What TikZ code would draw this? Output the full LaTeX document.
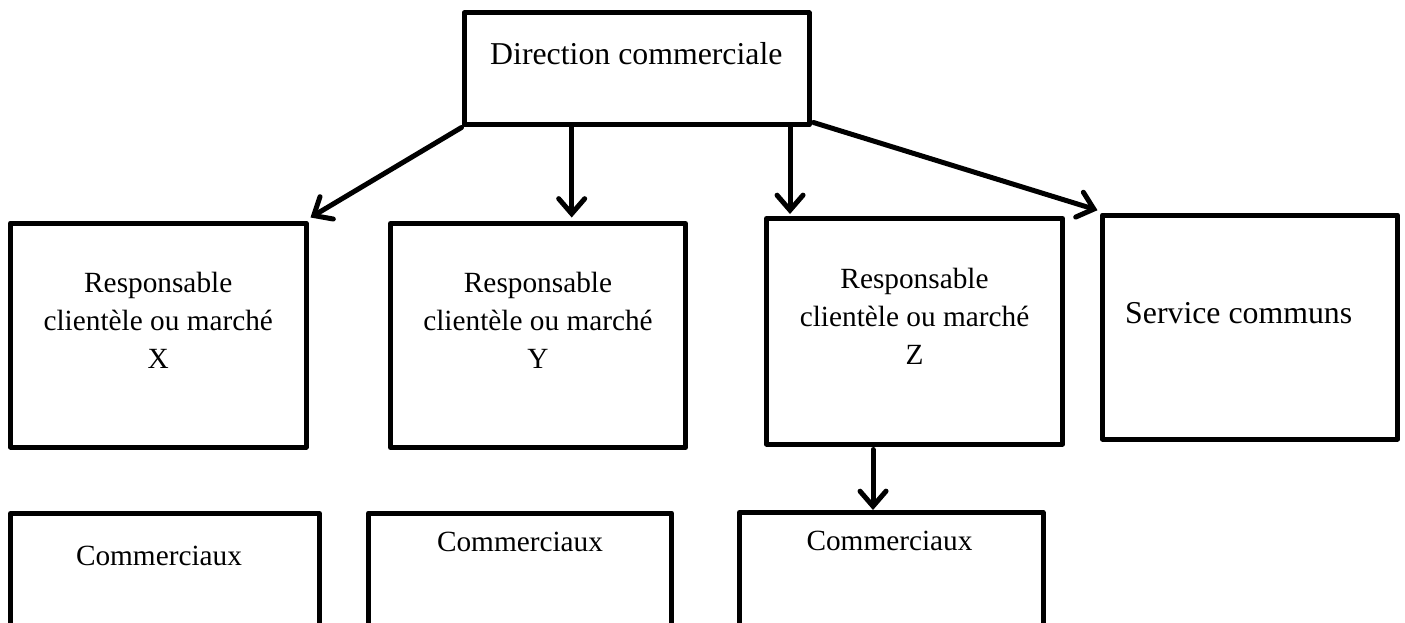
\documentclass[tikz,border=0pt]{standalone}
\usepackage{fontspec}
\setmainfont{Liberation Serif}
\usetikzlibrary{arrows.meta}

\tikzset{
  box/.style={draw=black, line width=5pt, line join=round, rectangle,
              inner sep=0pt, fill=white},
  lbl/.style={anchor=base, inner sep=0pt, align=center,
              font=\fontsize{29.3}{38}\selectfont},
  biglbl/.style={anchor=base, inner sep=0pt,
              font=\fontsize{31.8}{38}\selectfont},
  arr/.style={line width=5pt, line cap=round,
              -{Straight Barb[length=15pt, width=26pt, line cap=round]}},
}

\begin{document}
\begin{tikzpicture}[x=1pt, y=-1pt]
  \clip (0,0) rectangle (1405,623);
  \fill[white] (0,0) rectangle (1405,623);

  % top level
  \node[box, minimum width=345pt, minimum height=112pt] (dc) at (636.5,69) {};
  \node[biglbl, anchor=base west] (dct) at (490,65) {Direction commerciale};

  % second level (multi-line labels are anchored on their last line)
  \node[box, minimum width=295.5pt, minimum height=224pt] (rx) at (158.25,335) {};
  \node[lbl] (rxt) at (158.25,368) {Responsable\\clientèle ou marché\\X};

  \node[box, minimum width=295pt, minimum height=224pt] (ry) at (538,335.5) {};
  \node[lbl] (ryt) at (538,368) {Responsable\\clientèle ou marché\\Y};

  \node[box, minimum width=296pt, minimum height=225.5pt] (rz) at (914.5,331.25) {};
  \node[lbl] (rzt) at (914.5,364) {Responsable\\clientèle ou marché\\Z};

  \node[box, minimum width=295pt, minimum height=224pt] (sc) at (1250,327) {};
  \node[biglbl, anchor=base west] (sct) at (1125,323) {Service communs};

  % third level
  \node[box, minimum width=309pt, minimum height=160pt] (c1) at (165,593.5) {};
  \node[lbl] (c1t) at (159,565) {Commerciaux};

  \node[box, minimum width=303pt, minimum height=160pt] (c2) at (520,593) {};
  \node[lbl] (c2t) at (520,551.7) {Commerciaux};

  \node[box, minimum width=303.5pt, minimum height=160pt] (c3) at (891.25,592.5) {};
  \node[lbl] (c3t) at (889.5,550.7) {Commerciaux};

  % connectors
  \draw[arr] (dc.south west) -- ([xshift=2pt,yshift=3pt]rx.north east);
  \draw[arr] ([xshift=33.7pt]ry.north |- dc.south) -- ([xshift=33.7pt,yshift=3.5pt]ry.north);
  \draw[arr] ([xshift=-124.5pt]rz.north |- dc.south) -- ([xshift=-124.5pt,yshift=2pt]rz.north);
  \draw[arr] ([xshift=2pt,yshift=5pt]dc.south east) -- ([xshift=-2.5pt,yshift=2.3pt]sc.north west);
  \draw[arr] ([xshift=-41.5pt,yshift=-3pt]rz.south) -- ([xshift=-18.25pt]c3.north);
\end{tikzpicture}
\end{document}
